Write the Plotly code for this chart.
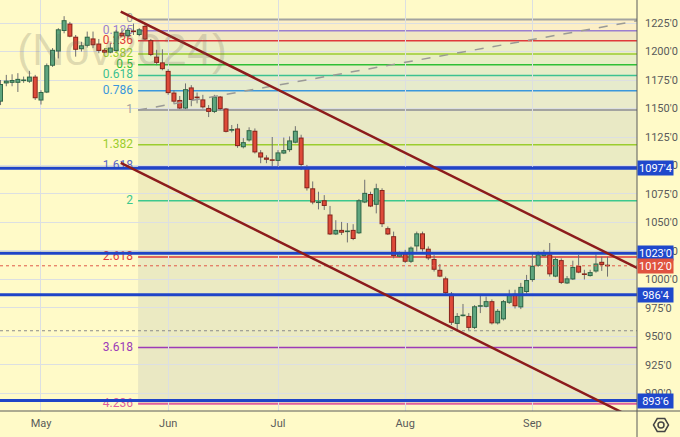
import plotly.graph_objects as go
import pandas as pd

# ---------------- data ----------------
holidays = ["2024-05-27", "2024-06-19", "2024-07-04", "2024-09-02"]
dates = [d for d in pd.bdate_range("2024-04-22", "2024-09-20")
         if d.strftime("%Y-%m-%d") not in holidays]

opens = [1156, 1172, 1172.5, 1172.5, 1174.5, 1173.5, 1178, 1157, 1164, 1187.5,
         1200, 1218, 1224.5, 1213, 1202, 1205, 1211.5, 1207, 1201.5, 1199,
         1200.5, 1216.5, 1213.5, 1218, 1214.5, 1222.5, 1210, 1195.5, 1190.5, 1183,
         1164, 1157.5, 1150, 1168.5, 1160, 1158, 1150.5, 1147, 1160.5, 1150,
         1130.5, 1132.5, 1116, 1122, 1130.5, 1111.5, 1107, 1105, 1104, 1110.5,
         1113.5, 1120, 1124.5, 1098.5, 1080, 1067.5, 1069.5, 1057, 1039.5, 1043.5,
         1042, 1043.5, 1040.5, 1067.5, 1075, 1065.5, 1078.5, 1045, 1038, 1020,
         1023, 1015.5, 1029, 1040.5, 1027, 1018, 1008.5, 1001, 987.5, 961,
         968, 968, 957.5, 976.5, 976, 981, 961.5, 965, 979.5, 987.5,
         975.5, 989, 999.5, 1012, 1020.5, 1022, 1002.5, 1017, 996.5, 1000,
         1012, 1004.75, 1003, 1007, 1015.5, 1012.5]
highs = [1175, 1179.5, 1180, 1181, 1178, 1183, 1179.5, 1166, 1189.5, 1203,
         1220.5, 1231, 1226, 1214.5, 1208.5, 1217.5, 1217.5, 1211, 1203, 1207,
         1219, 1220.5, 1220.5, 1224.5, 1220.5, 1224.5, 1211, 1201.5, 1202, 1184.5,
         1166, 1161, 1172, 1170.5, 1164, 1162, 1153, 1162, 1161, 1150.5,
         1135.5, 1136.5, 1124, 1133.5, 1132.5, 1113.5, 1109, 1125, 1113.5, 1124.5,
         1125.5, 1134.5, 1127, 1100.5, 1086, 1077, 1074, 1064.5, 1052, 1050.5,
         1049.5, 1048.5, 1070.5, 1087.5, 1077, 1084, 1080, 1046.5, 1042, 1024.5,
         1026, 1029, 1042, 1042, 1029, 1021.5, 1013.5, 1002.5, 989, 970.5,
         978.5, 970.5, 977.5, 985.5, 985, 982.5, 974, 982, 991, 991,
         997, 1004, 1023.5, 1024.5, 1026, 1032, 1019.5, 1018.5, 1003, 1016.5,
         1021.5, 1008.5, 1008.5, 1022, 1020, 1020]
lows = [1153, 1169.5, 1169.5, 1164.5, 1172.5, 1172.5, 1157.5, 1153.5, 1163.5, 1186.5,
        1194, 1216, 1212.5, 1195.5, 1200, 1203.5, 1203, 1198.5, 1198.5, 1198.5,
        1199.5, 1213, 1212.5, 1214.5, 1213.5, 1210, 1196, 1188, 1183.5, 1162,
        1154.5, 1149.5, 1149.5, 1152, 1154.5, 1150, 1142.5, 1146, 1148.5, 1129,
        1129, 1115.5, 1115, 1121, 1110.5, 1102, 1102, 1099, 1099, 1110,
        1112, 1119.5, 1096, 1078, 1066, 1061.5, 1061, 1039, 1039, 1039,
        1032.5, 1034.5, 1040, 1067, 1063.5, 1058, 1046, 1039, 1018.5, 1019.5,
        1014.5, 1014.5, 1024.5, 1024.5, 1017, 1007, 1002, 985.5, 960, 955,
        967.5, 955.5, 956.5, 970.5, 975.5, 960.5, 960.5, 964, 978.5, 974.5,
        974, 987.5, 998, 1011, 1020, 1002.5, 1002, 996, 996, 999.5,
        1005.5, 1000, 1002.5, 1006, 1007.5, 1002.5]
closes = [1171.5, 1174.5, 1175, 1176, 1175, 1178, 1159, 1164.5, 1188, 1201.5,
          1219.5, 1227.5, 1213, 1201.5, 1205.5, 1213, 1205.5, 1200.5, 1199, 1203.5,
          1217.5, 1213.5, 1219, 1217.5, 1219.5, 1210.5, 1197, 1190, 1184.5, 1163.5,
          1156, 1150, 1167, 1157.5, 1159.5, 1151, 1147, 1160.5, 1149.5, 1129.5,
          1132, 1117, 1120.5, 1131, 1111.5, 1107, 1105, 1104.5, 1111.5, 1113.5,
          1122, 1130.5, 1100.5, 1080, 1067.5, 1068, 1064.5, 1039.5, 1043.5, 1041,
          1042.5, 1035.5, 1069.5, 1076, 1064, 1080, 1048.5, 1039.5, 1020.5, 1023,
          1015.5, 1028, 1040.5, 1026.5, 1018.5, 1008.5, 1002.5, 988, 962, 968,
          969, 957.5, 976.5, 977, 981, 961.5, 972.5, 981, 986.5, 976.5,
          993.5, 999.5, 1012, 1022, 1023.5, 1004.5, 1018, 997, 1001, 1011,
          1006, 1004.5, 1006.5, 1014, 1012.75, 1012]

# Fibonacci retracement drawing
fib_ratios = [0, 0.125, 0.236, 0.382, 0.5, 0.618, 0.786, 1, 1.382, 1.618, 2, 2.618, 3.618, 4.236]
fib_labels = ["0", "0.125", "0.236", "0.382", "0.5", "0.618", "0.786", "1", "1.382",
              "1.618", "2", "2.618", "3.618", "4.236"]
fib_colors = ["#a3a3a0", "#9a7fd0", "#e0393a", "#9bcd2e", "#2fbf35", "#3cc191", "#3a97dc",
              "#a3a3a0", "#9bcd2e", "#5a67c8", "#3cc78e", "#e0393a", "#9c3bb8", "#e0609c"]
band_colors = ["#fcecc6", "#efe3c2", "#e9ebc4", "#e4ebc5", "#e3eac8", "#e2e8cc", "#e6e7cb",
               "#e5e5c4", "#e6e8c2", "#ede9bb", "#ebe9bf", "#e7e6c1", "#e6e4c2"]
fib_price_0 = 1228.2
fib_price_1 = 1148.6
fib_start = 23.8

# horizontal levels and trend lines
hlines = [1097.5, 1023.0, 986.5, 893.75]
last_price = 1012.0
low_mark = 955.0
channel_x = [20.8, 110.2]
channel_upper = [1235.0, 1009.9]
channel_lower = [1102.3, 876.6]
diag_x = [23.8, 110.2]
diag_y = [1148.6, 1227.0]

y_ticks = [900, 925, 950, 975, 1000, 1025, 1050, 1075, 1100, 1125, 1150, 1175, 1200, 1225]
watermark = "(Nov2024)"

# ---------------- helpers ----------------
def fmt(p):
    w = int(p)
    return f"{w}'{int(round((p - w) * 8))}"

n = len(closes)
xs = list(range(n))
XMIN, XMAX = -0.09, 110.1
YMIN, YMAX = 884.6, 1245.2
PX = 411 / (YMAX - YMIN)  # px per price unit

tick_x, tick_t = [], []
for i, d in enumerate(dates):
    if i > 0 and d.month != dates[i - 1].month:
        tick_x.append(i)
        tick_t.append(d.strftime("%b"))

BG = "#fffac8"
GRID = "#dcdfe2"
FONT = "Roboto, Liberation Sans, sans-serif"

fig = go.Figure()

# fib bands + lines (below traces)
fib_prices = [fib_price_0 + r * (fib_price_1 - fib_price_0) for r in fib_ratios]
shapes = []
for k in range(len(fib_prices) - 1):
    shapes.append(dict(type="rect", xref="x", yref="y", x0=fib_start, x1=XMAX,
                       y0=fib_prices[k + 1], y1=fib_prices[k], fillcolor=band_colors[k],
                       opacity=0.85, line=dict(width=0), layer="below"))
for p, c, r in zip(fib_prices, fib_colors, fib_ratios):
    shapes.append(dict(type="line", xref="x", yref="y", x0=fib_start, x1=XMAX, y0=p, y1=p,
                       line=dict(color=c, width=2 if r in (0, 1, 4.236) else 1.5), layer="below"))

# fib labels (under candles), set just left of the drawing's start
fig.add_trace(go.Scatter(x=[fib_start - 0.9] * len(fib_prices), y=fib_prices, mode="text",
                         text=fib_labels, textposition="middle left",
                         textfont=dict(color=fib_colors, size=12, family=FONT),
                         hoverinfo="skip", showlegend=False))

# wicks
wx, wy = [], []
for i in xs:
    wx += [i, i, None]
    wy += [lows[i], highs[i], None]
fig.add_trace(go.Scatter(x=wx, y=wy, mode="lines", line=dict(color="#707070", width=1),
                         hoverinfo="skip", showlegend=False))

# bodies
one = 1.0 / PX
for up, border, fill in [(True, "#2f6646", "#5ea57e"), (False, "#86261c", "#de4a39")]:
    bx, by, fx, fy = [], [], [], []
    for i in xs:
        o, c = opens[i], closes[i]
        if (c >= o) != up:
            continue
        lo, hi = min(o, c), max(o, c)
        if hi - lo < 1.6 * one:
            mid = (hi + lo) / 2
            lo, hi = mid - 0.8 * one, mid + 0.8 * one
        bx += [i, i, None]
        by += [lo, hi, None]
        if hi - lo > 2.2 * one:
            fx += [i, i, None]
            fy += [lo + one, hi - one, None]
    fig.add_trace(go.Scatter(x=bx, y=by, mode="lines", line=dict(color=border, width=5),
                             hoverinfo="skip", showlegend=False))
    fig.add_trace(go.Scatter(x=fx, y=fy, mode="lines", line=dict(color=fill, width=3),
                             hoverinfo="skip", showlegend=False))

# dotted lines
fig.add_trace(go.Scatter(x=[XMIN, XMAX], y=[low_mark, low_mark], mode="lines",
                         line=dict(color="#8a8a8a", width=1, dash="dot"),
                         hoverinfo="skip", showlegend=False))
fig.add_trace(go.Scatter(x=[XMIN, XMAX], y=[last_price, last_price], mode="lines",
                         line=dict(color="#e05a48", width=1, dash="dot"),
                         hoverinfo="skip", showlegend=False))

# dashed fib diagonal
fig.add_trace(go.Scatter(x=diag_x, y=diag_y, mode="lines",
                         line=dict(color="#9a9a96", width=1.5, dash="dash"),
                         hoverinfo="skip", showlegend=False))

# blue horizontal levels
for h in hlines:
    fig.add_trace(go.Scatter(x=[XMIN, XMAX], y=[h, h], mode="lines",
                             line=dict(color="#1f44c8", width=3),
                             hoverinfo="skip", showlegend=False))

# channel
for ys in (channel_upper, channel_lower):
    fig.add_trace(go.Scatter(x=channel_x, y=ys, mode="lines",
                             line=dict(color="#8c1c1c", width=2.5),
                             hoverinfo="skip", showlegend=False))

annotations = [dict(text=watermark, xref="paper", yref="paper", x=122 / 637, y=1 - 50 / 411,
                    xanchor="center", yanchor="middle", showarrow=False,
                    font=dict(size=45, family="Liberation Sans, sans-serif",
                              color="rgba(110,105,90,0.22)"))]
for h in hlines:
    annotations.append(dict(text=fmt(h), xref="paper", yref="y", x=1, y=h, xanchor="left",
                            showarrow=False, bgcolor="#1f48cc", width=33, height=12, borderpad=1,
                            font=dict(color="white", size=11, family=FONT)))
annotations.append(dict(text=fmt(last_price), xref="paper", yref="y", x=1, y=last_price,
                        xanchor="left", showarrow=False, bgcolor="#e0533f", width=33, height=12,
                        borderpad=1, font=dict(color="white", size=11, family=FONT)))

# axis frame lines + settings icon
shapes.append(dict(type="line", xref="paper", yref="paper", x0=1, x1=1, y0=-0.07, y1=1,
                   line=dict(color="#5a5a5a", width=1)))
shapes.append(dict(type="line", xref="paper", yref="paper", x0=0, x1=1.07, y0=0, y1=0,
                   line=dict(color="#5a5a5a", width=1)))
cx, cy, r = 661, 425, 7.5
pts = [(cx - r, cy), (cx - r / 2, cy - 0.866 * r), (cx + r / 2, cy - 0.866 * r),
       (cx + r, cy), (cx + r / 2, cy + 0.866 * r), (cx - r / 2, cy + 0.866 * r)]
path = "M " + " L ".join(f"{x / 637:.5f},{(411 - y) / 411:.5f}" for x, y in pts) + " Z"
shapes.append(dict(type="path", xref="paper", yref="paper", path=path,
                   line=dict(color="#444", width=1.5)))
shapes.append(dict(type="circle", xref="paper", yref="paper",
                   x0=(cx - 3) / 637, x1=(cx + 3) / 637, y0=(411 - cy - 3) / 411,
                   y1=(411 - cy + 3) / 411, line=dict(color="#444", width=1.5)))

fig.update_layout(
    width=680, height=437, margin=dict(l=0, r=43, t=0, b=26),
    paper_bgcolor=BG, plot_bgcolor=BG, showlegend=False,
    shapes=shapes, annotations=annotations, hovermode=False,
    xaxis=dict(range=[XMIN, XMAX], tickvals=tick_x, ticktext=tick_t, showgrid=True,
               gridcolor=GRID, gridwidth=1, zeroline=False, showline=False, ticks="",
               tickfont=dict(size=11, color="#5a5a5a", family=FONT), ticklabelstandoff=4,
               automargin=False),
    yaxis=dict(range=[YMIN, YMAX], side="right", tickvals=y_ticks,
               ticktext=[fmt(t) for t in y_ticks], showgrid=True, gridcolor=GRID, gridwidth=1,
               zeroline=False, showline=False, ticks="",
               tickfont=dict(size=11, color="#5a5a5a", family=FONT), ticklabelstandoff=7,
               automargin=False),
)

fig.write_html("out.html", config={"displayModeBar": False},
               post_script="document.body.style.margin='0';"
                           "document.body.style.overflow='hidden';")
